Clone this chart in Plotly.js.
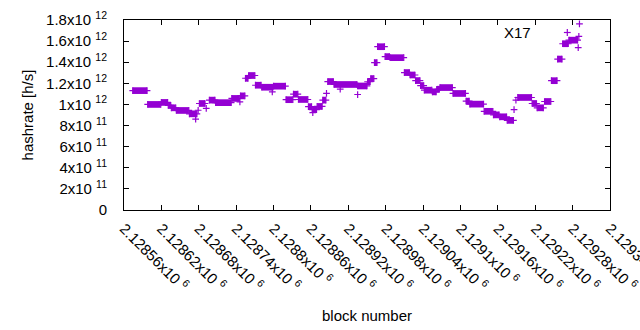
<!DOCTYPE html>
<html>
<head>
<meta charset="utf-8">
<script src="https://cdn.plot.ly/plotly-3.0.1.min.js"></script>
<style>html,body{margin:0;padding:0;background:#fff;}#chart{width:640px;height:330px;}</style>
</head>
<body>
<div id="chart"></div>
<script>
// Runs of consecutive blocks sharing the same hashrate value
const runStart = [2128574,2128598,2128620,2128631,2128636,2128644,2128665,2128681,2128697,2128707,
  2128733,2128747,2128755,2128760,2128771,2128781,2128800,2128820,2128832,2128840,
  2128856,2128862,2128870,2128879,2128887,2128897,2128935,2128951,2128956,2128962,
  2128967,2128979,2128987,2129010,2129019,2129028,2129036,2129042,2129055,2129062,
  2129067,2129088,2129109,2129115,2129138,2129153,2129163,2129175,2129192,2129215,
  2129223,2129235,2129246,2129256,2129264,2129274];
const runEnd = [2128597,2128619,2128630,2128635,2128643,2128664,2128677,2128690,2128706,2128732,
  2128745,2128754,2128759,2128770,2128780,2128799,2128819,2128831,2128839,2128855,
  2128861,2128869,2128878,2128884,2128896,2128934,2128950,2128955,2128961,2128966,
  2128978,2128986,2129009,2129018,2129027,2129035,2129041,2129054,2129061,2129066,
  2129087,2129108,2129114,2129137,2129152,2129162,2129174,2129185,2129214,2129222,
  2129233,2129245,2129255,2129263,2129273,2129288];
const runValue = [1.131e12,1.000e12,1.019e12,0.991e12,0.968e12,0.943e12,0.911e12,1.009e12,1.041e12,1.017e12,
  1.057e12,1.081e12,1.248e12,1.274e12,1.182e12,1.163e12,1.173e12,1.045e12,1.097e12,1.047e12,
  0.979e12,0.951e12,0.981e12,1.041e12,1.217e12,1.189e12,1.175e12,1.215e12,1.245e12,1.396e12,
  1.547e12,1.453e12,1.443e12,1.302e12,1.279e12,1.226e12,1.179e12,1.135e12,1.119e12,1.144e12,
  1.160e12,1.104e12,1.031e12,1.003e12,0.935e12,0.901e12,0.883e12,0.849e12,1.066e12,1.009e12,
  0.968e12,1.028e12,1.225e12,1.430e12,1.575e12,1.609e12];

// Isolated blocks
const singleBlock = [2128675,2128679,2128692,2128746,2128798,2128863,2128885,2128907,2128935,
  2129186,2129189,2129289,2129290,2129291];
const singleValue = [0.861e12,0.945e12,0.962e12,1.025e12,1.119e12,0.923e12,1.104e12,1.146e12,1.094e12,
  0.951e12,1.040e12,1.538e12,1.644e12,1.764e12];

const xTickVals = [2128560,2128620,2128680,2128740,2128800,2128860,2128920,2128980,2129040,2129100,2129160,2129220,2129280,2129340];
const xTickText = ['2.12856x10 <sup>6</sup>','2.12862x10 <sup>6</sup>','2.12868x10 <sup>6</sup>','2.12874x10 <sup>6</sup>',
  '2.1288x10 <sup>6</sup>','2.12886x10 <sup>6</sup>','2.12892x10 <sup>6</sup>','2.12898x10 <sup>6</sup>',
  '2.12904x10 <sup>6</sup>','2.1291x10 <sup>6</sup>','2.12916x10 <sup>6</sup>','2.12922x10 <sup>6</sup>',
  '2.12928x10 <sup>6</sup>','2.12934x10 <sup>6</sup>'];
const yTickVals = [0,2e11,4e11,6e11,8e11,1e12,1.2e12,1.4e12,1.6e12,1.8e12];
const yTickText = ['0','2x10 <sup>11</sup>','4x10 <sup>11</sup>','6x10 <sup>11</sup>','8x10 <sup>11</sup>',
  '1x10 <sup>12</sup>','1.2x10 <sup>12</sup>','1.4x10 <sup>12</sup>','1.6x10 <sup>12</sup>','1.8x10 <sup>12</sup>'];

const seriesName = 'X17';
const COLOR = '#9400d3';
const FONT = 'Liberation Sans, Arial, sans-serif';

const rx = [], ry = [];
for (let i = 0; i < runStart.length; i++) {
  rx.push(runStart[i], runEnd[i], null);
  ry.push(runValue[i], runValue[i], null);
}
const markerStyle = {symbol: 'cross-thin-open', size: 4.8, color: COLOR, line: {color: COLOR, width: 1.2}};

const traces = [
  {x: rx, y: ry, type: 'scatter', mode: 'lines+markers', name: seriesName,
   line: {color: COLOR, width: 6.7}, marker: markerStyle, connectgaps: false, showlegend: false},
  {x: singleBlock, y: singleValue, type: 'scatter', mode: 'markers', name: seriesName,
   marker: markerStyle, showlegend: false}
];

const kx = (567.3 - 124) / 486, ky = (210 - 32.5) / 190;
const dx = 3.4 / 486, dy = 3.4 / 190;

const layout = {
  width: 640, height: 330,
  margin: {l: 124, r: 30, t: 20, b: 120},
  paper_bgcolor: '#fff', plot_bgcolor: '#fff',
  font: {family: FONT, size: 15, color: '#000'},
  showlegend: false,
  xaxis: {
    range: [2128560, 2129340], tickmode: 'array', tickvals: xTickVals, ticktext: xTickText,
    tickangle: 45, ticks: 'inside', ticklen: 5, tickcolor: '#000',
    showline: true, linecolor: '#000', linewidth: 1, mirror: 'ticks',
    showgrid: false, zeroline: false, tickfont: {family: FONT, size: 15, color: '#000'},
    ticklabeloverflow: 'allow', ticklabelstandoff: 3,
    title: {text: 'block number', font: {family: FONT, size: 15, color: '#000'}, standoff: 16}
  },
  yaxis: {
    range: [0, 1.8e12], tickmode: 'array', tickvals: yTickVals, ticktext: yTickText,
    ticks: 'inside', ticklen: 5, tickcolor: '#000',
    showline: true, linecolor: '#000', linewidth: 1, mirror: 'ticks',
    showgrid: false, zeroline: false, tickfont: {family: FONT, size: 15, color: '#000'},
    ticklabelstandoff: 13,
    title: {text: 'hashrate [h/s]', font: {family: FONT, size: 15, color: '#000'}, standoff: 8}
  },
  annotations: [
    {xref: 'paper', yref: 'paper', x: (533 - 124) / 486, y: ky, xanchor: 'right', yanchor: 'middle',
     text: seriesName, showarrow: false, font: {family: FONT, size: 15, color: '#000'}}
  ],
  shapes: [
    {type: 'line', xref: 'paper', yref: 'paper', x0: kx - dx, x1: kx + dx, y0: ky, y1: ky, line: {color: COLOR, width: 1.2}},
    {type: 'line', xref: 'paper', yref: 'paper', x0: kx, x1: kx, y0: ky - dy, y1: ky + dy, line: {color: COLOR, width: 1.2}}
  ]
};

Plotly.newPlot('chart', traces, layout, {displayModeBar: false, staticPlot: true});
</script>
</body>
</html>
